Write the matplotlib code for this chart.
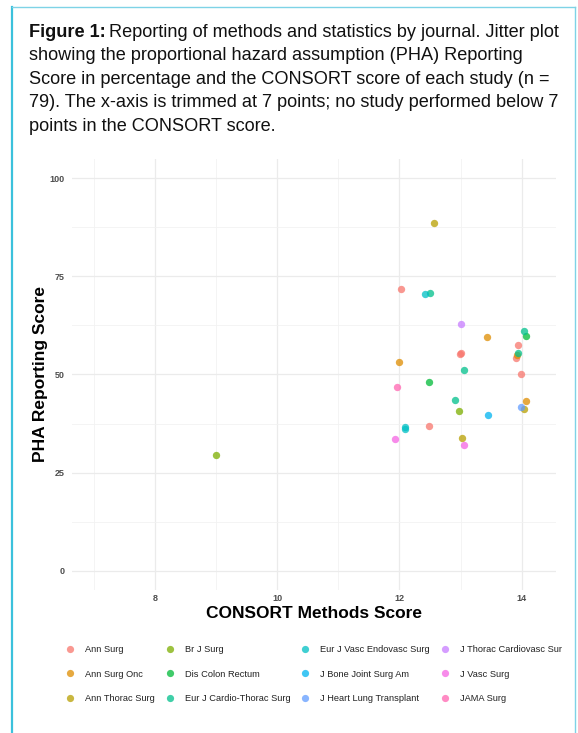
import matplotlib
matplotlib.use("Agg")
import matplotlib.pyplot as plt
from matplotlib.lines import Line2D
import numpy as np

plt.rcParams['font.family'] = ['Liberation Sans', 'DejaVu Sans']

# ---------------- data ----------------
journals = ["Ann Surg", "Ann Surg Onc", "Ann Thorac Surg", "Br J Surg",
            "Dis Colon Rectum", "Eur J Cardio-Thorac Surg",
            "Eur J Vasc Endovasc Surg", "J Bone Joint Surg Am",
            "J Heart Lung Transplant", "J Thorac Cardiovasc Sur",
            "J Vasc Surg", "JAMA Surg"]
colors = ["#F8766D", "#DE8C00", "#B79F00", "#7CAE00", "#00BA38", "#00C08B",
          "#00BFC4", "#00B4F0", "#619CFF", "#C77CFF", "#F564E3", "#FF64B0"]

point_journal = ["Ann Surg", "Ann Surg", "Ann Surg", "Ann Surg", "Ann Surg", "Ann Surg", "Ann Surg",
                 "Ann Surg Onc", "Ann Surg Onc", "Ann Surg Onc", "Ann Surg Onc",
                 "Ann Thorac Surg", "Ann Thorac Surg", "Ann Thorac Surg",
                 "Br J Surg", "Br J Surg",
                 "Dis Colon Rectum", "Dis Colon Rectum",
                 "Eur J Cardio-Thorac Surg", "Eur J Cardio-Thorac Surg", "Eur J Cardio-Thorac Surg",
                 "Eur J Cardio-Thorac Surg", "Eur J Cardio-Thorac Surg",
                 "Eur J Vasc Endovasc Surg", "Eur J Vasc Endovasc Surg", "Eur J Vasc Endovasc Surg",
                 "J Bone Joint Surg Am", "J Heart Lung Transplant", "J Thorac Cardiovasc Sur",
                 "J Vasc Surg", "J Vasc Surg", "JAMA Surg"]
consort_score = [12.02, 12.99, 13.00, 13.94, 13.91, 13.98, 12.48,
                 13.43, 13.92, 12.00, 14.07,
                 12.57, 14.03, 13.02,
                 9.00, 12.97,
                 14.07, 12.49,
                 12.50, 14.04, 13.94, 13.05, 12.91,
                 12.42, 12.09, 12.09,
                 13.45, 13.99, 13.01,
                 11.92, 13.05, 11.96]
pha_score = [71.8, 55.2, 55.4, 57.5, 54.3, 50.0, 37.0,
             59.6, 54.9, 53.1, 43.2,
             88.5, 41.3, 33.8,
             29.4, 40.7,
             59.8, 48.1,
             70.8, 61.1, 55.6, 51.1, 43.6,
             70.4, 36.6, 36.0,
             39.8, 41.6, 62.9,
             33.6, 32.0, 46.9]

x_ticks = [8, 10, 12, 14]
y_ticks = [0, 25, 50, 75, 100]

title_lines = ["showing the proportional hazard assumption (PHA) Reporting",
               "Score in percentage and the CONSORT score of each study (n =",
               "79). The x-axis is trimmed at 7 points; no study performed below 7",
               "points in the CONSORT score."]

# ---------------- figure ----------------
W, H = 578, 733
fig = plt.figure(figsize=(W / 100, H / 100), dpi=100)
fig.patch.set_facecolor("white")

def fx(px):
    return px / W

def fy(py):
    return 1 - py / H

# border
fig.add_artist(Line2D([fx(12.3), fx(12.3)], [fy(7.3), fy(740)], color="#3BC1DC", lw=1.6))
fig.add_artist(Line2D([fx(12.3), fx(575.3)], [fy(7.3), fy(7.3)], color="#7ED3E6", lw=1.0))
fig.add_artist(Line2D([fx(575.3), fx(575.3)], [fy(7.3), fy(740)], color="#7ED3E6", lw=1.0))

# title
TFS = 13.1
t0 = fig.text(fx(29), fy(32.3), "Figure 1:", fontsize=TFS, fontweight="bold",
              va="center", ha="left", color="#111111")
fig.canvas.draw()
bb = t0.get_window_extent()
fig.text(bb.x1 / W + fx(3.5), fy(32.3), "Reporting of methods and statistics by journal. Jitter plot",
         fontsize=TFS, va="center", ha="left", color="#111111")
for i, line in enumerate(title_lines):
    fig.text(fx(29), fy(32.3 + 23.5 * (i + 1)), line, fontsize=TFS, va="center",
             ha="left", color="#111111")

# axes
left, right, top, bottom = 71.7, 556.0, 158.7, 590.3
ax = fig.add_axes([fx(left), fy(bottom), fx(right - left), (bottom - top) / H])
ax.set_facecolor("white")

cmap = dict(zip(journals, colors))
for j in journals:
    idx = [i for i, pj in enumerate(point_journal) if pj == j]
    ax.scatter([consort_score[i] for i in idx], [pha_score[i] for i in idx],
               s=28, color=cmap[j], alpha=0.75, linewidths=0, zorder=3)

xmin, xmax = 7, 14.2
xr = xmax - xmin
ax.set_xlim(xmin - 0.05 * xr, xmax + 0.05 * xr)
ax.set_ylim(-5, 105)
ax.set_xticks(x_ticks)
ax.set_yticks(y_ticks)
ax.set_xticks([7, 9, 11, 13], minor=True)
ax.set_yticks([12.5, 37.5, 62.5, 87.5], minor=True)
ax.grid(True, which="major", color="#EBEBEB", lw=0.9)
ax.grid(True, which="minor", color="#F2F2F2", lw=0.6)
ax.set_axisbelow(True)
for s in ax.spines.values():
    s.set_visible(False)
ax.tick_params(which="both", length=0)
ax.tick_params(axis="x", labelsize=6.5, labelcolor="#4D4D4D", pad=2.5)
ax.tick_params(axis="y", labelsize=6.5, labelcolor="#4D4D4D", pad=5)
for lab in ax.get_xticklabels() + ax.get_yticklabels():
    lab.set_fontweight("bold")

ax.set_xlabel("CONSORT Methods Score", fontsize=12.5, fontweight="bold", labelpad=2)
ax.set_ylabel("PHA Reporting Score", fontsize=12.5, fontweight="bold", labelpad=1)

# legend
handles = [Line2D([], [], marker="o", linestyle="none", markersize=5.2,
                  markerfacecolor=c, markeredgewidth=0, alpha=0.75) for c in colors]
leg = fig.legend(handles, journals, ncol=4, loc="upper left",
                 bbox_to_anchor=(fx(65.3), fy(645.3)), frameon=False,
                 fontsize=6.7, handlelength=1.0, handletextpad=1.12,
                 columnspacing=1.1, labelspacing=1.66, borderpad=0,
                 borderaxespad=0)
for t in leg.get_texts():
    t.set_color("#222222")

fig.savefig("out.png", dpi=100)
